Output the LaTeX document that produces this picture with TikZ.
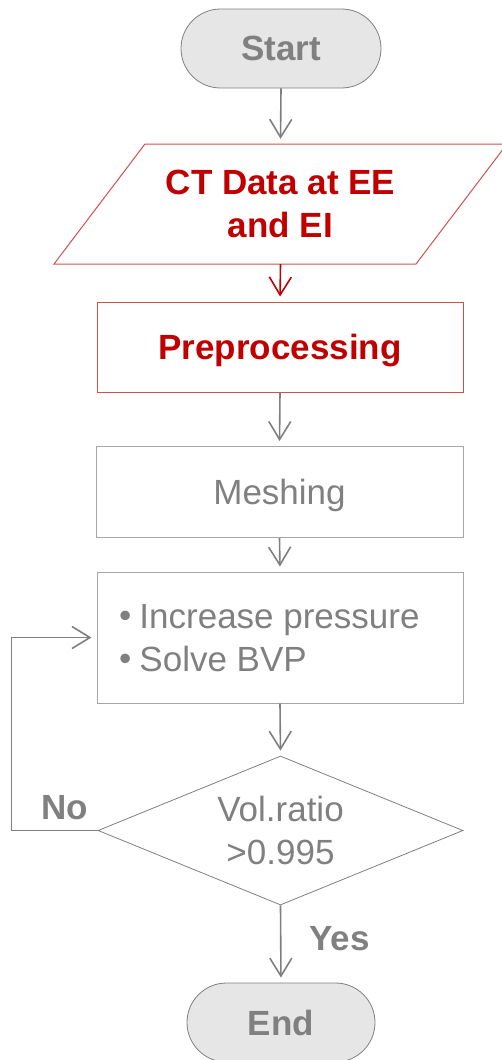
\documentclass[tikz,border=0pt]{standalone}
\usepackage{fontspec}
\setmainfont{Liberation Sans}
\usetikzlibrary{arrows.meta,shapes.misc,shapes.geometric}

\definecolor{txtgray}{HTML}{808080}
\definecolor{linegray}{HTML}{7F7F7F}
\definecolor{boxgray}{HTML}{A6A6A6}
\definecolor{termfill}{HTML}{E6E6E6}
\definecolor{darkred}{HTML}{C00000}
\definecolor{redline}{HTML}{D05050}

\tikzset{
  big/.style={font=\fontsize{35}{43}\selectfont},
  term/.style={rounded rectangle, draw=linegray, line width=0.8pt, fill=termfill,
    text=txtgray, font=\fontsize{35}{43}\selectfont\bfseries,
    inner sep=0pt, minimum height=79pt, text depth=0pt},
  plainbox/.style={rectangle, draw=boxgray, line width=1pt, text=txtgray, big,
    inner sep=0pt, text depth=0pt},
  redbox/.style={rectangle, draw=redline, line width=1pt, text=darkred,
    font=\fontsize{35}{43}\selectfont\bfseries, inner sep=0pt, text depth=0pt},
  conn/.style={draw=linegray, line width=1.6pt,
    -{Straight Barb[length=18pt,width=22pt,line width=1.6pt]}, shorten >=5pt},
  redconn/.style={conn, draw=darkred},
  lbl/.style={text=txtgray, font=\fontsize{35}{43}\selectfont\bfseries, inner sep=0pt},
}

\begin{document}
\begin{tikzpicture}[x=1pt,y=-1pt]
\useasboundingbox (0,0) rectangle (502,1060);

% terminals
\node[term, minimum width=200pt] (start) at (281,48.5) {Start};
\node[term, minimum width=188pt] (end) at (281,1022.5) {End};

% input data parallelogram
\node[inner sep=0pt, minimum width=362pt, minimum height=120pt, text=darkred,
      align=center, font=\fontsize{35}{43}\selectfont\bfseries]
      (data) at (280.5,204) {CT Data at EE\\and EI};
\draw[redline, line width=1pt] (54,264) -- (416,264) -- (507,144) -- (145,144) -- cycle;

% processing steps
\node[redbox, minimum width=366pt, minimum height=90pt] (prep) at (280,347) {Preprocessing};
\node[plainbox, minimum width=367pt, minimum height=91pt] (mesh) at (279.5,492) {Meshing};
\node[plainbox, minimum width=366pt, minimum height=131pt] (solve) at (280,637.5) {};
\node[text=txtgray, big, anchor=base west, inner sep=0pt, align=left]
      (items) at (119,671) {\raisebox{1pt}{•}\hspace{8pt}Increase pressure\\\raisebox{1pt}{•}\hspace{8pt}Solve BVP};

% decision
\node[diamond, draw=linegray, line width=0.8pt, text=txtgray, big, align=center,
      inner sep=0pt, shape aspect=2.45, minimum width=365pt, minimum height=149pt]
      (dec) at (280.5,830.5) {Vol.ratio\\>0.995};

% connectors
\draw[conn] (start.south) -- (data.north);
\draw[redconn] (data.south) -- (prep.north);
\draw[conn] (prep.south) -- (mesh.north);
\draw[conn] (mesh.south) -- (solve.north);
\draw[conn] (solve.south) -- (dec.north);
\draw[conn] (dec.south) -- (end.north);
\draw[conn] (dec.west) -- ++(-86,0) |- (solve.west);

% branch labels
\node[lbl, anchor=base east] (no) at (88,819) {No};
\node[lbl, anchor=base west] (yes) at (309,950) {Yes};
\end{tikzpicture}
\end{document}
